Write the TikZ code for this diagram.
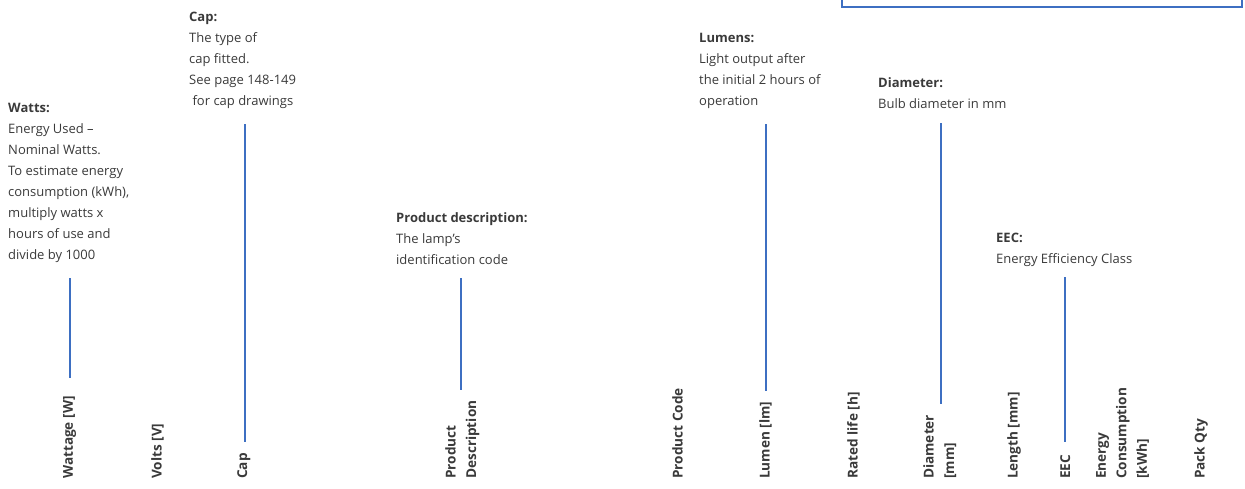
\documentclass[tikz,border=0pt]{standalone}
\usepackage{fontspec}
\setmainfont{Open Sans}
\definecolor{txt}{HTML}{3A3A3A}
\definecolor{geblue}{HTML}{3D6FC2}
\begin{document}
\begin{tikzpicture}[x=1pt,y=1pt,
  desc/.style={anchor=north west,inner sep=0pt,align=left,text=txt,font=\fontsize{13}{21}\selectfont},
  lab/.style={anchor=north west,inner sep=0pt,align=left,rotate=90,text=txt,font=\fontsize{13.6}{20.5}\selectfont\bfseries},
  conn/.style={draw=geblue,line width=1.2pt},
  boxline/.style={draw=geblue,line width=1.4pt}]
\useasboundingbox (0,0) rectangle (1245,-488);
% top-right box edge
\coordinate (b1) at (842,2);
\coordinate (b2) at (842,-7);
\coordinate (b3) at (1242,-7);
\coordinate (b4) at (1242,2);
\draw[boxline] (b1) -- (b2) -- (b3) -- (b4);
% descriptions
\node[desc] (dW) at (8,-103) {\textbf{Watts:}\\Energy Used --\\Nominal Watts.\\To estimate energy\\consumption (kWh),\\multiply watts x\\hours of use and\\divide by 1000};
\node[desc] (dC) at (189,-12) {\textbf{Cap:}\\The type of\\cap fitted.\\See page 148-149\\\ for cap drawings};
\node[desc] (dL) at (699,-33) {\textbf{Lumens:}\\Light output after\\the initial 2 hours of\\operation};
\node[desc] (dD) at (878,-77) {\textbf{Diameter:}\\Bulb diameter in mm};
\node[desc] (dP) at (396,-212) {\textbf{Product description:}\\The lamp’s\\identification code};
\node[desc] (dE) at (996,-233) {\textbf{EEC:}\\Energy Efficiency Class};
% column labels
\node[lab] (lW) at (63,-479) {Wattage [W]};
\node[lab] (lV) at (151,-479) {Volts [V]};
\node[lab] (lC) at (237,-479) {Cap};
\node[lab] (lP) at (445,-479) {Product\\Description};
\node[lab] (lPC) at (672,-479) {Product Code};
\node[lab] (lL) at (759,-479) {Lumen [lm]};
\node[lab] (lR) at (847,-479) {Rated life [h]};
\node[lab] (lD) at (923,-479) {Diameter\\{}[mm]};
\node[lab] (lLe) at (1007,-479) {Length [mm]};
\node[lab] (lE) at (1060,-479) {EEC};
\node[lab] (lEC) at (1096,-479) {Energy\\Consumption\\{}[kWh]};
\node[lab] (lQ) at (1194,-479) {Pack Qty};
% connectors
\coordinate (w1) at (70,-278);   \coordinate (w2) at (70,-378);
\coordinate (c1) at (245,-124);  \coordinate (c2) at (245,-442);
\coordinate (p1) at (461,-278);  \coordinate (p2) at (461,-390);
\coordinate (m1) at (766,-124);  \coordinate (m2) at (766,-391);
\coordinate (d1) at (941,-123);  \coordinate (d2) at (941,-404);
\coordinate (e1) at (1065,-277); \coordinate (e2) at (1065,-442);
\draw[conn] (w1) -- (w2);
\draw[conn] (c1) -- (c2);
\draw[conn] (p1) -- (p2);
\draw[conn] (m1) -- (m2);
\draw[conn] (d1) -- (d2);
\draw[conn] (e1) -- (e2);
\end{tikzpicture}
\end{document}
